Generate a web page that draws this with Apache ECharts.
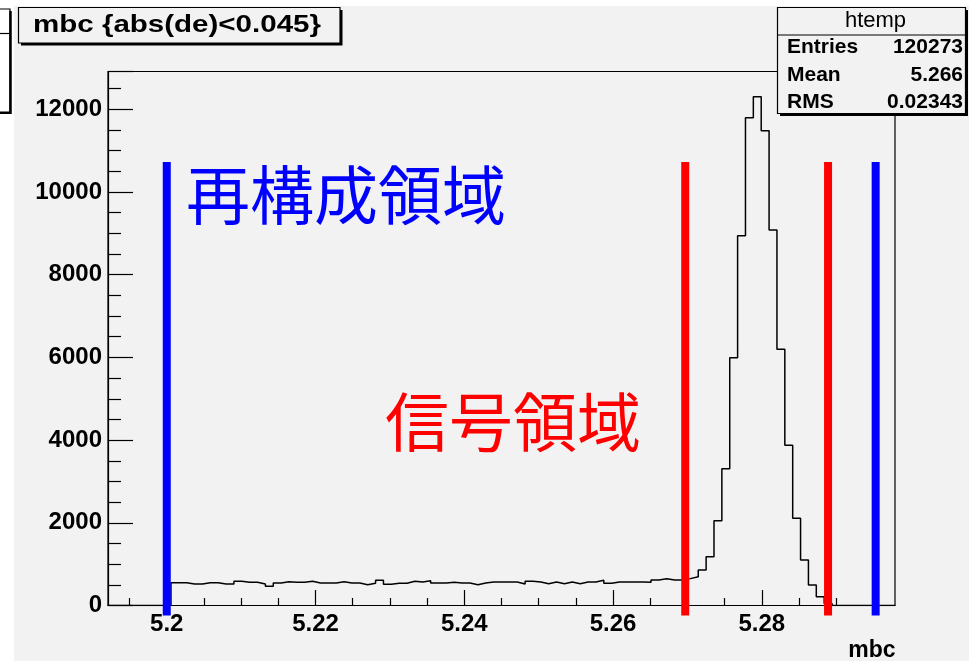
<!DOCTYPE html>
<html><head><meta charset="utf-8">
<script src="https://cdn.jsdelivr.net/npm/echarts@6/dist/echarts.min.js"></script>
<style>
html,body{margin:0;padding:0;background:#fff;overflow:hidden;}
#bg{position:absolute;left:14px;top:6px;width:955px;height:655px;background:#f2f2f2;}
#chart{position:absolute;left:0;top:0;width:969px;height:661px;}
</style></head><body>
<div id="bg"></div><div id="chart"></div>
<script>
// ---- data ----
const histRange = [5.1921, 5.2979];          // histogram x range (100 bins)
const binCounts = [
  0,0,0,0,0,0,0,0,551,551,
  520,520,551,551,520,520,585,561,561,520,
  464,544,576,561,561,585,544,544,544,576,
  544,544,504,537,609,512,537,537,585,568,
  600,544,544,561,544,544,504,544,568,568,
  568,568,520,585,568,528,568,528,568,528,
  568,568,609,537,568,568,568,568,561,617,
  648,617,617,650,696,858,1180,2051,3308,5993,
  8943,11797,12305,11482,9081,6196,3874,2109,1100,496,
  213,50,0,0,0,0,0,0,0,0
];
const yRange = [0, 12915];
const yInterval = 2000;
const xMajorTicks = [5.20, 5.22, 5.24, 5.26, 5.28];
const xMinorTicks = [5.195,5.205,5.21,5.215,5.225,5.23,5.235,5.245,5.25,5.255,5.265,5.27,5.275,5.285,5.29,5.295];
const blueLinesX = [5.2, 5.2953];
const redLinesX = [5.2697, 5.2889];
const regionLineY = [-242, 10726];
const titleText = 'mbc {abs(de)<0.045}';
const statsName = 'htemp';
const statsLabels = ['Entries', 'Mean', 'RMS'];
const statsValues = ['120273', '5.266', '0.02343'];
const regionLabels = ['再構成領域', '信号領域'];
const xAxisName = 'mbc';

// ---- build ----
const nb = binCounts.length;
const bw = (histRange[1] - histRange[0]) / nb;
const histPts = [[histRange[0], 0]];
binCounts.forEach((c, i) => {
  const a = histRange[0] + i * bw;
  histPts.push([a, c], [a + bw, c]);
});
histPts.push([histRange[1], 0]);

const LAT = '"Liberation Sans", Arial, Helvetica, sans-serif';
const CJK = '"Noto Sans CJK JP", "Noto Sans CJK SC", sans-serif';

function vline(x, color) {
  return {
    type: 'line', xAxisIndex: 0, yAxisIndex: 0,
    data: [[x, regionLineY[0]], [x, regionLineY[1]]],
    symbol: 'none', clip: false, silent: true, z: 5,
    lineStyle: { color: color, width: 8, cap: 'butt' },
    animation: false
  };
}

const chart = echarts.init(document.getElementById('chart'), null, { renderer: 'canvas' });
const series = [{
  type: 'line', xAxisIndex: 0, yAxisIndex: 0,
  data: histPts, symbol: 'none', showSymbol: false,
  lineStyle: { color: '#000', width: 1.5 }, z: 3, animation: false
}];
blueLinesX.forEach(x => series.push(vline(x, '#0000ff')));
redLinesX.forEach(x => series.push(vline(x, '#ff0000')));

function boxWithShadow(x, y, w, h, off) {
  return [
    { type: 'rect', shape: { x: x + off, y: y + off, width: w, height: h }, style: { fill: '#000' }, z: 10 },
    { type: 'rect', shape: { x: x, y: y, width: w, height: h }, style: { fill: '#f2f2f2', stroke: '#000', lineWidth: 1.2 }, z: 11 }
  ];
}

const graphics = [];
// left fragment box
graphics.push({ type: 'rect', shape: { x: -5, y: 9, width: 15, height: 103 }, style: { fill: '#fff', stroke: '#000', lineWidth: 1.2 }, z: 10 });
graphics.push({ type: 'line', shape: { x1: 10.5, y1: 11, x2: 10.5, y2: 114 }, style: { stroke: '#000', lineWidth: 2.5 }, z: 10 });
graphics.push({ type: 'line', shape: { x1: 0, y1: 33.5, x2: 10, y2: 33.5 }, style: { stroke: '#000', lineWidth: 1.2 }, z: 10 });
graphics.push({ type: 'line', shape: { x1: 0, y1: 113, x2: 11, y2: 113 }, style: { stroke: '#000', lineWidth: 2 }, z: 10 });
// title box
boxWithShadow(18.5, 7.5, 321.5, 35.5, 2.5).forEach(g => graphics.push(g));
graphics.push({ type: 'text', x: 33, y: 25, scaleX: 1.23, z: 12,
  style: { text: titleText, font: 'bold 24px ' + LAT, fill: '#000', textVerticalAlign: 'middle', textAlign: 'left' } });
// stats box
boxWithShadow(777.5, 7.5, 188, 106, 2.5).forEach(g => graphics.push(g));
graphics.push({ type: 'line', shape: { x1: 777.5, y1: 35, x2: 965.5, y2: 35 }, style: { stroke: '#000', lineWidth: 1.2 }, z: 12 });
graphics.push({ type: 'text', x: 875.5, y: 21, z: 12,
  style: { text: statsName, font: '22px ' + LAT, fill: '#000', textAlign: 'center', textVerticalAlign: 'middle' } });
const rowY = [47.5, 75, 102.5];
statsLabels.forEach((l, i) => {
  graphics.push({ type: 'text', x: 787, y: rowY[i], z: 12,
    style: { text: l, font: 'bold 21px ' + LAT, fill: '#000', textAlign: 'left', textVerticalAlign: 'middle' } });
  graphics.push({ type: 'text', x: 963, y: rowY[i], z: 12,
    style: { text: statsValues[i], font: 'bold 21px ' + LAT, fill: '#000', textAlign: 'right', textVerticalAlign: 'middle' } });
});
// region labels
graphics.push({ type: 'text', x: 186, y: 195, z: 12,
  style: { text: regionLabels[0], font: '64px ' + CJK, fill: '#0000ff', textAlign: 'left', textVerticalAlign: 'middle' } });
graphics.push({ type: 'text', x: 385, y: 422, z: 12,
  style: { text: regionLabels[1], font: '64px ' + CJK, fill: '#ff0000', textAlign: 'left', textVerticalAlign: 'middle' } });
// x axis title
graphics.push({ type: 'text', x: 895.5, y: 651, z: 12,
  style: { text: xAxisName, font: 'bold 23px ' + LAT, fill: '#000', textAlign: 'right', textVerticalAlign: 'middle' } });

chart.setOption({
  animation: false,
  backgroundColor: 'transparent',
  grid: { left: 108, right: 74, top: 71.5, bottom: 55.5, show: true, borderColor: '#000', borderWidth: 1.2,
          backgroundColor: 'transparent', containLabel: false, outerBoundsMode: 'none' },
  xAxis: [{
    type: 'value', min: histRange[0], max: histRange[1], position: 'bottom',
    axisLine: { show: true, onZero: false, lineStyle: { color: '#000', width: 1.2 } },
    splitLine: { show: false },
    axisTick: { show: true, inside: true, length: 15.5, customValues: xMajorTicks, lineStyle: { color: '#000', width: 1.2 } },
    axisLabel: { show: true, customValues: xMajorTicks, margin: 7, color: '#000',
      fontFamily: LAT, fontWeight: 'bold', fontSize: 24,
      formatter: v => String(+(+v).toFixed(3)) }
  }, {
    type: 'value', min: histRange[0], max: histRange[1], position: 'bottom',
    axisLine: { show: false, onZero: false },
    splitLine: { show: false },
    axisTick: { show: true, inside: true, length: 7.5, customValues: xMinorTicks, lineStyle: { color: '#000', width: 1.2 } },
    axisLabel: { show: false }
  }],
  yAxis: {
    type: 'value', min: yRange[0], max: yRange[1], interval: yInterval,
    axisLine: { show: true, lineStyle: { color: '#000', width: 1.2 } },
    splitLine: { show: false },
    axisTick: { show: true, inside: true, length: 25, lineStyle: { color: '#000', width: 1.2 } },
    minorTick: { show: true, splitNumber: 4, length: 13, lineStyle: { color: '#000', width: 1.2 } },
    axisLabel: { show: true, margin: 6, color: '#000', fontFamily: LAT, fontWeight: 'bold', fontSize: 24,
      showMaxLabel: false, formatter: v => String(Math.round(v)) }
  },
  graphic: graphics,
  series: series
});
</script>
</body></html>
